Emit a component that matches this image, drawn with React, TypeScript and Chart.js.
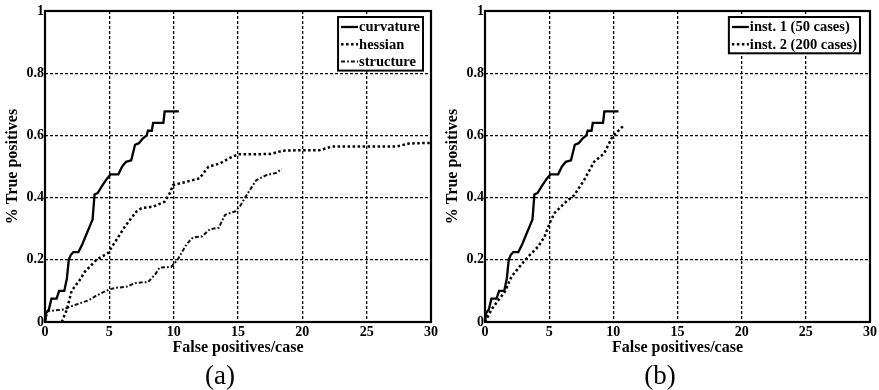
import React, { useEffect, useRef } from "react";
import { Chart, registerables } from "chart.js";

Chart.register(...registerables);

// ---- data ----
const xTickValues = [0, 5, 10, 15, 20, 25, 30];
const yTickLabels = ["0", "0.2", "0.4", "0.6", "0.8", "1"];
const xTitle = "False positives/case";
const yTitle = "% True positives";

const curvature: [number, number][] = [
  [0, 0], [0.1, 0.03], [0.3, 0.04], [0.5, 0.075], [0.9, 0.075], [1.1, 0.1], [1.5, 0.1],
  [1.7, 0.14], [1.85, 0.2], [2.0, 0.215], [2.2, 0.225], [2.6, 0.225], [2.9, 0.25],
  [3.1, 0.27], [3.3, 0.29], [3.5, 0.31], [3.7, 0.33], [3.85, 0.41], [4.1, 0.415],
  [4.4, 0.435], [4.8, 0.46], [5.1, 0.475], [5.7, 0.475], [6.0, 0.5], [6.3, 0.515],
  [6.7, 0.52], [7.0, 0.57], [7.3, 0.575], [7.6, 0.59], [7.9, 0.6], [8.0, 0.615],
  [8.3, 0.615], [8.4, 0.64], [9.2, 0.64], [9.3, 0.677], [10.4, 0.677],
];

const hessian: [number, number][] = [
  [1.3, 0], [1.7, 0.04], [2.07, 0.1], [2.7, 0.135], [3.1, 0.162], [4.0, 0.2],
  [4.9, 0.222], [5.3, 0.248], [6.2, 0.306], [7.1, 0.355], [7.5, 0.366], [8.4, 0.371],
  [9.3, 0.387], [9.7, 0.414], [9.95, 0.44], [11.0, 0.451], [12.0, 0.462], [12.7, 0.499],
  [13.6, 0.51], [14.3, 0.526], [15.0, 0.539], [17.5, 0.54], [18.5, 0.551], [19.5, 0.552],
  [21.3, 0.552], [22.3, 0.564], [27.3, 0.564], [28.3, 0.574], [30, 0.576],
];

const structure: [number, number][] = [
  [0, 0], [0.2, 0.035], [1.4, 0.04], [2.0, 0.05], [2.7, 0.06], [3.4, 0.07], [4.0, 0.085],
  [5.0, 0.105], [5.5, 0.11], [6.3, 0.113], [7.0, 0.125], [7.6, 0.128], [8.0, 0.128],
  [8.6, 0.155], [8.9, 0.175], [9.8, 0.177], [10.3, 0.2], [11.0, 0.25], [11.5, 0.272],
  [12.2, 0.275], [12.8, 0.298], [13.5, 0.303], [14.0, 0.345], [14.8, 0.356], [15.2, 0.375],
  [15.7, 0.41], [16.4, 0.455], [16.6, 0.46], [17.2, 0.472], [18.0, 0.48], [18.4, 0.492],
];

const inst2: [number, number][] = [
  [0, 0], [0.5, 0.04], [1.04, 0.07], [1.55, 0.097], [2.06, 0.146], [2.7, 0.178],
  [3.35, 0.21], [4.13, 0.242], [4.64, 0.274], [5.03, 0.317], [5.41, 0.35], [6.19, 0.382],
  [6.96, 0.408], [7.73, 0.457], [8.5, 0.515], [9.28, 0.542], [9.93, 0.596], [10.83, 0.633],
];

const labelsA = ["curvature", "hessian", "structure"];
const labelsB = ["inst. 1 (50 cases)", "inst. 2 (200 cases)"];
const captions = ["(a)", "(b)"];

// ---- styling ----
const SERIF = '"Liberation Serif", "Times New Roman", serif';
const SOLID = { borderColor: "#000", borderWidth: 2.3, borderDash: [] as number[] };
const DOTTED = { borderColor: "#000", borderWidth: 2.5, borderDash: [2.5, 2.5] };
const DASHDOT = { borderColor: "#111", borderWidth: 2, borderDash: [4, 2, 1.8, 2] };

const toPts = (arr: [number, number][]) => arr.map(([x, y]) => ({ x, y }));

const framePlugin = {
  id: "frameBox",
  afterDatasetsDraw(chart: any) {
    const { ctx, chartArea } = chart;
    ctx.save();
    ctx.strokeStyle = "#000";
    ctx.lineWidth = 2.2;
    ctx.setLineDash([]);
    ctx.strokeRect(chartArea.left, chartArea.top, chartArea.right - chartArea.left, chartArea.bottom - chartArea.top);
    ctx.restore();
  },
};

const boxLegendPlugin = {
  id: "boxLegend",
  afterDraw(chart: any, _args: any, opts: any) {
    const { ctx, chartArea } = chart;
    const ds = chart.data.datasets;
    ctx.save();
    ctx.font = `bold 14.5px ${SERIF}`;
    const maxW = Math.max(...ds.map((d: any) => ctx.measureText(d.label).width));
    const sample = 17;
    const rowH = 17.3;
    const right = chartArea.right - (opts.insetRight ?? 8);
    const top = chartArea.top + 6;
    const w = 3 + sample + 1 + maxW + 3;
    const h = 10 + (ds.length - 1) * rowH + 9;
    const left = right - w;
    ctx.fillStyle = "#fff";
    ctx.fillRect(left, top, w, h);
    ctx.lineWidth = 2;
    ctx.strokeStyle = "#000";
    ctx.setLineDash([]);
    ctx.strokeRect(left, top, w, h);
    ds.forEach((d: any, i: number) => {
      const y = top + 10 + i * rowH;
      ctx.beginPath();
      ctx.setLineDash(d.borderDash || []);
      ctx.lineWidth = d.borderWidth;
      ctx.strokeStyle = d.borderColor;
      ctx.moveTo(left + 3, y);
      ctx.lineTo(left + 3 + sample, y);
      ctx.stroke();
      ctx.setLineDash([]);
      ctx.fillStyle = "#000";
      ctx.textBaseline = "middle";
      ctx.textAlign = "left";
      ctx.fillText(d.label, left + 3 + sample + 1, y + 0.5);
    });
    ctx.restore();
  },
};

function Panel({ datasets, width, legendInset }: { datasets: any[]; width: number; legendInset: number }) {
  const ref = useRef<HTMLCanvasElement | null>(null);
  useEffect(() => {
    if (!ref.current) return;
    const tickFont = { family: SERIF, weight: "bold" as const, size: 14 };
    const chart = new Chart(ref.current, {
      type: "line",
      data: { datasets },
      options: {
        animation: false,
        responsive: false,
        devicePixelRatio: 1,
        layout: { padding: { top: 11, right: width - 432, left: 0, bottom: 0 } },
        elements: { point: { radius: 0 }, line: { tension: 0 } },
        plugins: { legend: { display: false }, tooltip: { enabled: false }, boxLegend: { insetRight: legendInset } } as any,
        scales: {
          x: {
            type: "linear",
            min: 0,
            max: 30,
            afterBuildTicks: (s: any) => { s.ticks = xTickValues.map((v) => ({ value: v })); },
            afterFit: (s: any) => { s.height = 38; },
            ticks: { font: tickFont, color: "#000", padding: 2, maxRotation: 0, autoSkip: false },
            grid: { color: "#000", lineWidth: 1.3, drawTicks: false },
            border: { display: false, dash: [3, 2] },
            title: { display: true, text: xTitle, color: "#000", font: { family: SERIF, weight: "bold", size: 16 }, padding: { top: 0, bottom: 3 } },
          },
          y: {
            type: "linear",
            min: 0,
            max: 1,
            afterBuildTicks: (s: any) => { s.ticks = yTickLabels.map((l) => ({ value: parseFloat(l) })); },
            afterFit: (s: any) => { s.width = 45; },
            ticks: {
              font: tickFont,
              color: "#000",
              padding: 1,
              autoSkip: false,
              callback: (_v: any, i: number) => yTickLabels[i],
            },
            grid: { color: "#000", lineWidth: 1.3, drawTicks: false },
            border: { display: false, dash: [3, 2] },
            title: { display: true, text: yTitle, color: "#000", font: { family: SERIF, weight: "bold", size: 16 }, padding: { top: 3, bottom: 0 } },
          },
        },
      },
      plugins: [framePlugin, boxLegendPlugin],
    });
    return () => chart.destroy();
  }, []);
  return <canvas ref={ref} width={width} height={360} style={{ width, height: 360, display: "block" }} />;
}

export default function App() {
  const dsA = [
    { label: labelsA[0], data: toPts(curvature), ...SOLID },
    { label: labelsA[1], data: toPts(hessian), ...DOTTED },
    { label: labelsA[2], data: toPts(structure), ...DASHDOT },
  ];
  const dsB = [
    { label: labelsB[0], data: toPts(curvature), ...SOLID },
    { label: labelsB[1], data: toPts(inst2), ...DOTTED },
  ];
  const capStyle: React.CSSProperties = {
    position: "absolute",
    top: 358,
    width: 100,
    textAlign: "center",
    fontFamily: SERIF,
    fontSize: 27,
    lineHeight: "34px",
    color: "#000",
  };
  return (
    <div style={{ position: "absolute", left: 0, top: 0, width: 879, height: 390, background: "#fff", overflow: "hidden" }}>
      <div style={{ position: "absolute", left: 0, top: 0 }}>
        <Panel datasets={dsA} width={440} legendInset={8} />
      </div>
      <div style={{ position: "absolute", left: 440, top: 0 }}>
        <Panel datasets={dsB} width={439} legendInset={10} />
      </div>
      <div style={{ ...capStyle, left: 170 }}>{captions[0]}</div>
      <div style={{ ...capStyle, left: 610 }}>{captions[1]}</div>
    </div>
  );
}
